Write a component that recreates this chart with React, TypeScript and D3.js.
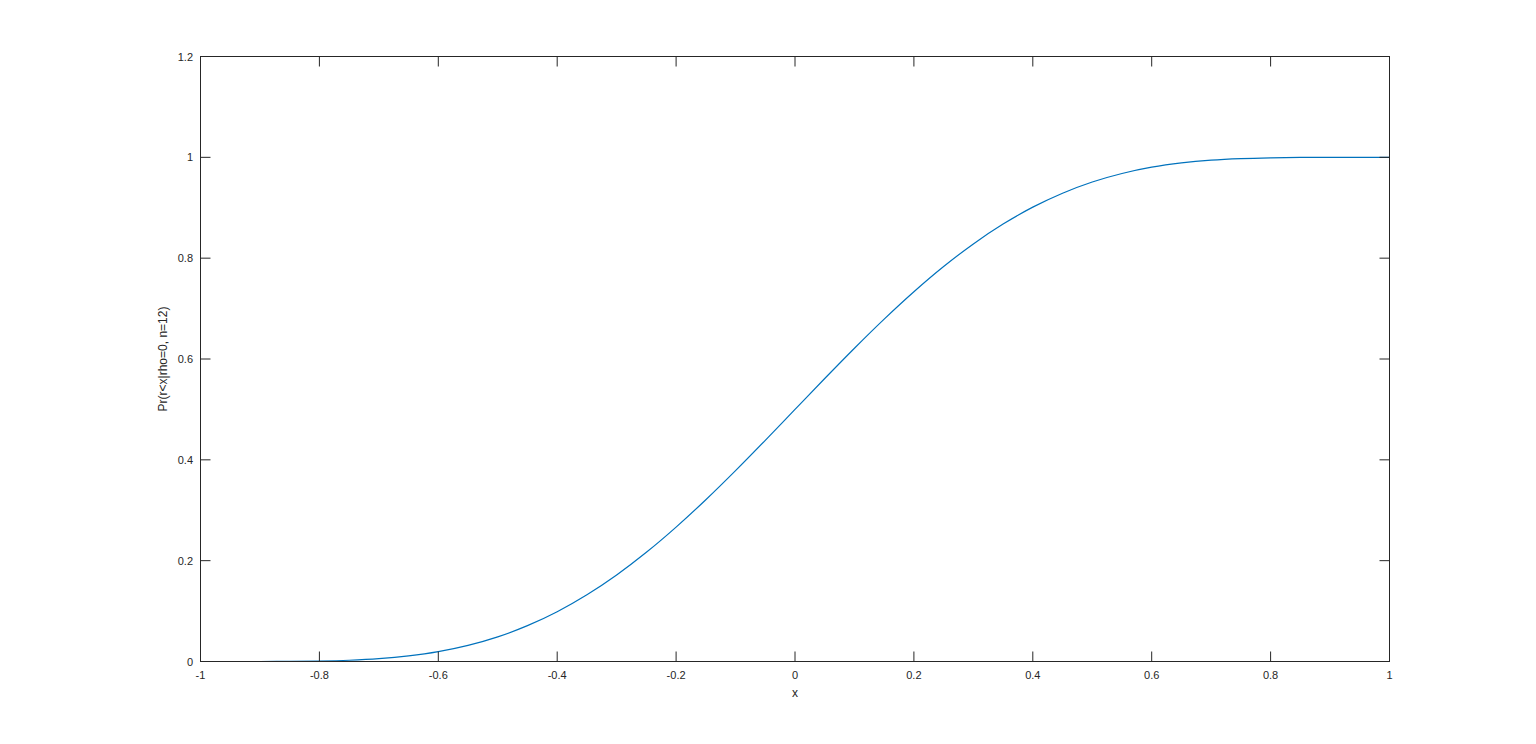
import React from "react";
import * as d3 from "d3";

const xValues = [
  -1, -0.95, -0.9, -0.85, -0.8, -0.75, -0.7, -0.65, -0.6, -0.55, -0.5, -0.45, -0.4, -0.35, -0.3, -0.25, -0.2, -0.15, -0.1, -0.05,
  0, 0.05, 0.1, 0.15, 0.2, 0.25, 0.3, 0.35, 0.4, 0.45, 0.5, 0.55, 0.6, 0.65, 0.7, 0.75, 0.8, 0.85, 0.9, 0.95, 1,
];
const pValues = [
  0, 0, 0, 0.0002, 0.0009, 0.0025, 0.0056, 0.0111, 0.0196, 0.032, 0.0489, 0.0711, 0.0988, 0.1324, 0.1717, 0.2166, 0.2666, 0.3209, 0.3786, 0.4387,
  0.5, 0.5613, 0.6214, 0.6791, 0.7334, 0.7834, 0.8283, 0.8676, 0.9012, 0.9289, 0.9511, 0.968, 0.9804, 0.9889, 0.9944, 0.9975, 0.9991, 0.9998, 1, 1, 1,
];
const xTicks = [-1, -0.8, -0.6, -0.4, -0.2, 0, 0.2, 0.4, 0.6, 0.8, 1];
const yTicks = [0, 0.2, 0.4, 0.6, 0.8, 1, 1.2];
const xLabel = "x";
const yLabel = "Pr(r<x|rho=0, n=12)";

const W = 1536;
const H = 744;
const L = 200.5;
const R = 1389.5;
const T = 56.5;
const B = 661.5;
const font = "'Liberation Sans', Arial, Helvetica, sans-serif";

export default function App() {
  const x = d3.scaleLinear().domain([-1, 1]).range([L, R]);
  const y = d3.scaleLinear().domain([0, 1.2]).range([B, T]);
  const line = d3
    .line<number>()
    .x((_, i) => x(xValues[i]))
    .y((d) => y(d))
    .curve(d3.curveMonotoneX);
  const tick = 10;
  return (
    <svg
      width={W}
      height={H}
      style={{ position: "absolute", left: 0, top: 0, background: "#fff" }}
    >
      <rect x={0} y={0} width={W} height={H} fill="#fff" />
      <path d={line(pValues) || ""} fill="none" stroke="#0072BD" strokeWidth={1.2} />
      <rect x={L} y={T} width={R - L} height={B - T} fill="none" stroke="#262626" strokeWidth={1} />
      {xTicks.map((t) => (
        <g key={"x" + t}>
          <line x1={x(t)} x2={x(t)} y1={B} y2={B - tick} stroke="#262626" />
          <line x1={x(t)} x2={x(t)} y1={T} y2={T + tick} stroke="#262626" />
          <text
            x={x(t)}
            y={679}
            textAnchor="middle"
            fontFamily={font}
            fontSize={11}
            fill="#262626"
          >
            {String(t)}
          </text>
        </g>
      ))}
      {yTicks.map((t) => (
        <g key={"y" + t}>
          <line x1={L} x2={L + tick} y1={y(t)} y2={y(t)} stroke="#262626" />
          <line x1={R} x2={R - tick} y1={y(t)} y2={y(t)} stroke="#262626" />
          <text
            x={193}
            y={y(t) + 4}
            textAnchor="end"
            fontFamily={font}
            fontSize={11}
            fill="#262626"
          >
            {String(t)}
          </text>
        </g>
      ))}
      <text
        x={x(0)}
        y={697}
        textAnchor="middle"
        fontFamily={font}
        fontSize={12}
        fill="#262626"
      >
        {xLabel}
      </text>
      <text
        transform={`translate(167,${(T + B) / 2}) rotate(-90)`}
        textAnchor="middle"
        fontFamily={font}
        fontSize={12}
        fill="#262626"
      >
        {yLabel}
      </text>
    </svg>
  );
}
